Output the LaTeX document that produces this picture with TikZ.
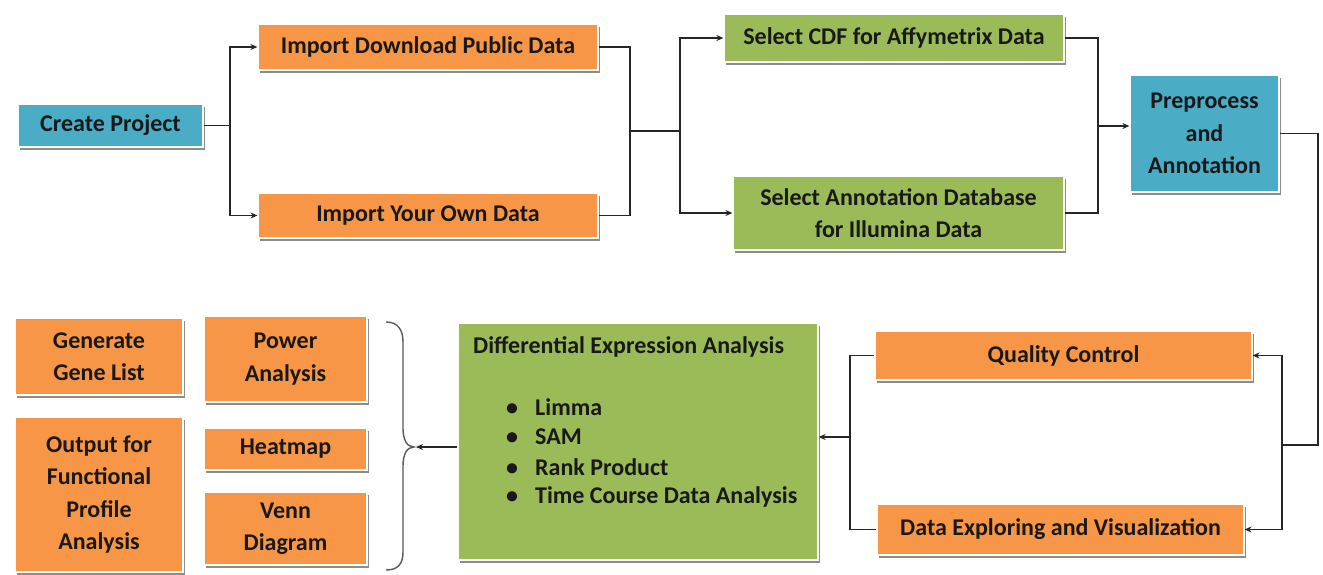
\documentclass[tikz,border=0pt]{standalone}
\usepackage{fontspec}
\setmainfont{Carlito}
\usetikzlibrary{arrows.meta,shadows,calc}
\definecolor{orng}{HTML}{F79646}
\definecolor{grn}{HTML}{9BBB59}
\definecolor{blu}{HTML}{4BACC6}
\begin{document}
\begin{tikzpicture}[x=1pt,y=-1pt,
  sz/.style args={#1/#2}{minimum width=#1pt, minimum height=#2pt},
  base/.style={draw=white, line width=1.2pt, inner sep=0pt, align=center,
    font=\bfseries\fontsize{24}{32.5}\selectfont, text=black!90,
    drop shadow={shadow xshift=2pt, shadow yshift=-3pt, fill=black!45, opacity=1}},
  obox/.style={base, fill=orng},
  gbox/.style={base, fill=grn},
  bbox/.style={base, fill=blu},
  txt/.style={inner sep=0pt, font=\bfseries\fontsize{24}{30}\selectfont, text=black!90, anchor=west},
  conn/.style={draw=black!85, line width=1.1pt},
  arr/.style={conn, -{Stealth[length=7pt,width=6pt]}}
]
\useasboundingbox (0,0) rectangle (1323,575);
\fill[white] (0,0) rectangle (1323,575);

% top row
\node[bbox, sz=185/43] (cp) at (110.5,125.5) {Create Project};
\node[obox, sz=340/46] (ipd) at (428,47) {Import Download Public Data};
\node[obox, sz=340/45] (iyo) at (428,215.5) {Import Your Own Data};
\node[gbox, sz=340/48] (scdf) at (894,38) {Select CDF for Affymetrix Data};
\node[gbox, sz=331/74] (sad) at (898.5,213) {Select Annotation Database\\for Illumina Data};
\node[bbox, sz=149/117] (pa) at (1204.5,133.5) {Preprocess\\and\\Annotation};

% bottom row
\node[obox, sz=377/49] (qc) at (1063.5,355.5) {Quality Control};
\node[obox, sz=367/51] (dev) at (1060.5,529.5) {Data Exploring and Visualization};
\node[gbox, sz=360/237] (dea) at (638,441.5) {};
\node[txt] (dt) at (473,347) {Differential Expression Analysis};
\node[txt] (b1) at (506,407) {\makebox[29pt][l]{•}Limma};
\node[txt] (b2) at (506,437) {\makebox[29pt][l]{•}SAM};
\node[txt] (b3) at (506,467) {\makebox[29pt][l]{•}Rank Product};
\node[txt] (b4) at (506,497) {\makebox[29pt][l]{•}Time Course Data Analysis};

\node[obox, sz=163/86] (pwa) at (285.5,359) {Power\\Analysis};
\node[obox, sz=163/42] (hm) at (285.5,449) {Heatmap};
\node[obox, sz=163/73] (vd) at (285.5,528.5) {Venn\\Diagram};
\node[obox, sz=168/77] (ggl) at (99,356.5) {Generate\\Gene List};
\node[obox, sz=168/155] (ofpa) at (99,494.5) {Output for\\Functional\\Profile\\Analysis};

% connectors
\coordinate (j1) at (230,125.5);
\draw[conn] (cp.east) -- (j1);
\draw[arr] (j1) |- (ipd.west);
\draw[arr] (j1) |- (iyo.west);

\coordinate (j2) at (630,131);
\coordinate (j3) at (680,131);
\draw[conn] (ipd.east) -| (j2) |- (iyo.east);
\draw[conn] (j2) -- (j3);
\draw[arr] (j3) |- (scdf.west);
\draw[arr] (j3) |- (sad.west);

\coordinate (j4) at (1098,126);
\draw[conn] (scdf.east) -| (j4) |- (sad.east);
\draw[arr] (j4) -- (j4 -| pa.west);

\coordinate (j5) at (1318,445);
\coordinate (j6) at (1282,445);
\draw[conn] (pa.east) -| (j5) -- (j6);
\draw[arr] (j6) |- (qc.east);
\draw[arr] (j6) |- (dev.east);

\coordinate (j7) at (850,437);
\draw[conn] (qc.west) -| (j7) |- (dev.west);
\draw[arr] (j7) -- (j7 -| dea.east);

% brace
\draw[draw=black!65, line width=1.4pt]
  (386,322) .. controls (398,322) and (403,330) .. (403,342) -- (403,428)
  .. controls (403,440) and (407,447) .. (414,447)
  .. controls (407,447) and (403,454) .. (403,466) -- (403,552)
  .. controls (403,564) and (398,570) .. (386,570);
\coordinate (bt) at (416,447);
\draw[arr] (dea.west |- bt) -- (bt);
\end{tikzpicture}
\end{document}
